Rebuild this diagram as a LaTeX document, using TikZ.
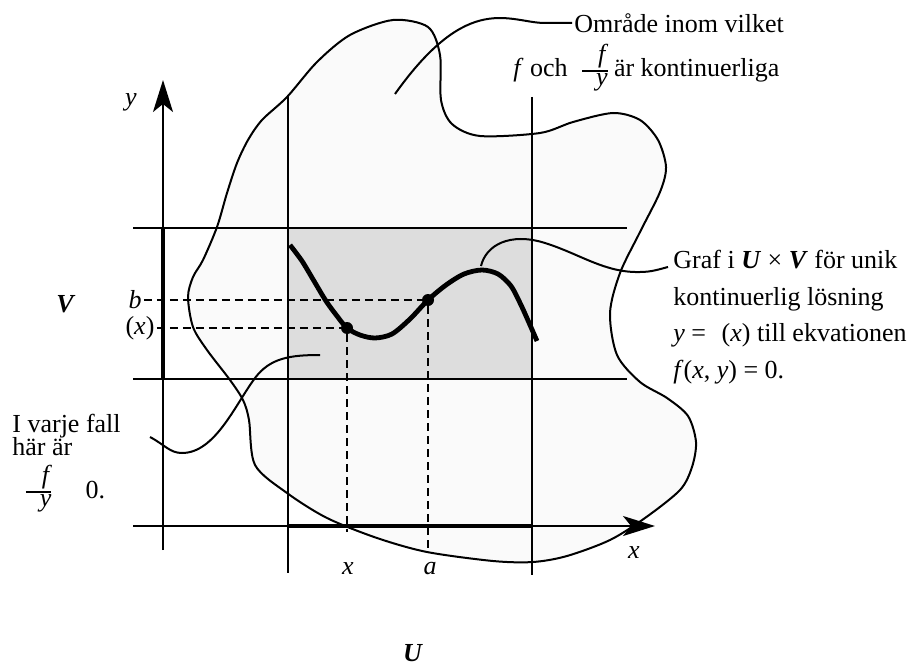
\documentclass[tikz,border=0pt]{standalone}
\usepackage{fontspec}
\setmainfont{Liberation Serif}
\usepackage{xcolor}
\usepackage{tikz}
\usetikzlibrary{arrows.meta}
\definecolor{regionfill}{RGB}{250,250,250}
\definecolor{boxfill}{RGB}{221,221,221}
\newcommand{\tightskip}{\lineskiplimit=-3pt\relax}
\tikzset{
  thinline/.style={line width=1pt},
  thickline/.style={line width=2.4pt},
  dashline/.style={line width=1pt, dash pattern=on 4pt off 2.5pt},
  axisline/.style={line width=1pt, -{Stealth[length=16pt,width=10pt,inset=4pt]}},
  lbl/.style={font=\fontsize{13}{15}\selectfont, inner sep=1pt},
  dotpt/.style={circle, fill=black, inner sep=0pt, minimum size=6pt},
}
\begin{document}
\begin{tikzpicture}[x=0.5pt, y=-0.5pt]
  \useasboundingbox (0,0) rectangle (914,668);
  \draw[thinline, fill=regionfill] plot[smooth cycle] coordinates {
    (287,97) (317,62) (350,35) (393,20) (428,27) (440,55) (441,100) (452,124)
    (480,136) (540,133) (573,122) (613,113) (640,120) (658,140) (666,167)
    (660,192) (640,232) (620,273) (610,313) (617,355) (640,382) (667,398)
    (688,416) (696,442) (692,467) (680,490) (645,518) (610,540) (567,556)
    (533,562) (493,561) (427,552) (377,538) (327,518) (287,493) (255,465)
    (249,420) (243,400) (230,380) (207,350) (193,327) (188,297) (193,277)
    (203,260) (217,227) (227,193) (237,163) (248,140) (262,120)};
  \fill[boxfill] (288,228) rectangle (532,379);
  \coordinate (yaxbot) at (163,550);
  \coordinate (yaxtop) at (163,80);
  \coordinate (xaxleft) at (133,526);
  \coordinate (xaxright) at (655,526);
  \draw[thinline] (133,228) -- (627,228);
  \draw[thinline] (133,379) -- (627,379);
  \draw[thinline] (288,96) -- (288,573);
  \draw[thinline] (532,97) -- (532,575);
  \draw[axisline] (yaxbot) -- (yaxtop);
  \draw[axisline] (xaxleft) -- (xaxright);
  \draw[thickline] (163,228) -- (163,379);
  \draw[thickline] (288,526) -- (532,526);
  \node[dotpt] (px) at (347,328) {};
  \node[dotpt] (pa) at (428,300) {};
  \coordinate (xfoot) at (347,532);
  \coordinate (afoot) at (428,552);
  \node[lbl] (blbl) at (135,300) {\textit{b}};
  \node[lbl] (xparen) at (140,328) {(\textit{x})};
  \draw[dashline] (blbl.east) -- (pa);
  \draw[dashline] (xparen.east) -- (px);
  \draw[dashline] (px) -- (xfoot);
  \draw[dashline] (pa) -- (afoot);
  \draw[thickline] plot[smooth] coordinates {
    (290,245) (302,261) (314,281) (326,301) (337,316) (347,328) (360,335)
    (375,338) (392,334) (410,319) (428,300) (446,285) (464,274) (482,270)
    (498,274) (511,286) (521,305) (530,325) (537,341)};
  \node[lbl] (ylbl) at (131,102) {\textit{y}};
  \node[lbl] (xaxlbl) at (634,553) {\textit{x}};
  \node[lbl] (xlbl) at (348,569) {\textit{x}};
  \node[lbl] (albl) at (430,569) {\textit{a}};
  \node[lbl] (Vlbl) at (66,304) {\textbf{\textit{V}}};
  \node[lbl] (Ulbl) at (413,653) {\textbf{\textit{U}}};
  \node[lbl, anchor=west] (omrade) at (572,23) {Område inom vilket};
  \node[lbl, anchor=base west] (kont) at (511,77) {\textit{f} och\hspace{6pt}${\hspace{7pt}\textit{f}\above 1pt\hspace{7pt}\textit{y}}$\hspace{2pt}är kontinuerliga};
  \node[lbl, anchor=north west, align=left, font={\fontsize{13}{18.3}\selectfont}] (graf) at (671,248)
    {Graf i \textbf{\textit{U}} × \textbf{\textit{V}} för unik\\
     kontinuerlig lösning\\
     \textit{y} =\hspace{0.6em}(\textit{x}) till ekvationen\\
     \textit{f}(\textit{x}, \textit{y}) = 0.};
  \node[lbl, anchor=north west, align=left, font={\fontsize{13}{11.5}\selectfont\tightskip}] (varje) at (10,412)
    {I varje fall\\här är};
  \node[lbl, anchor=base west] (nonzero) at (21,498) {${\hspace{7pt}\textit{f}\above 1pt\hspace{7pt}\textit{y}}$\hspace{16pt}0.};
  \coordinate (omrtip) at (395,94);
  \coordinate (graftip) at (481,266);
  \coordinate (grafend) at (668,267);
  \coordinate (varjestart) at (150,437);
  \coordinate (varjetip) at (320,355);
  \draw[thinline] (omrtip) .. controls (469,-10) and (510,23) .. (545,23) -- (omrade.west);
  \draw[thinline] (graftip) .. controls (486,245) and (510,232) .. (545,243)
    .. controls (580,254) and (605,273) .. (640,272)
    .. controls (652,272) and (660,269) .. (grafend);
  \draw[thinline] (varjestart) .. controls (165,445) and (170,453) .. (182,453)
    .. controls (215,453) and (235,405) .. (255,378)
    .. controls (270,358) and (290,355) .. (varjetip);
\end{tikzpicture}
\end{document}
